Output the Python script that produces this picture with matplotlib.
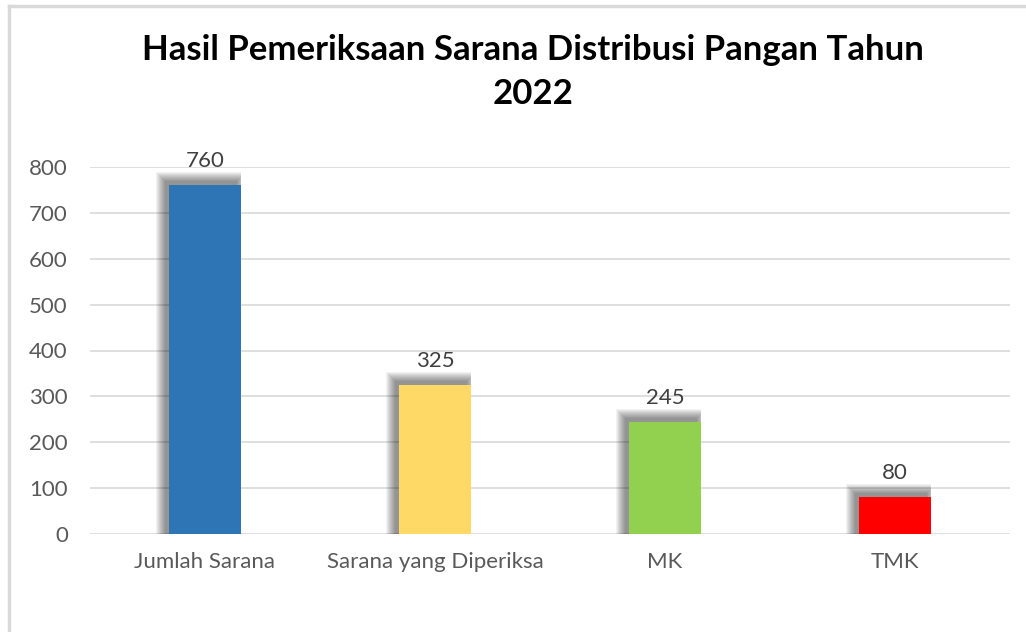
import matplotlib.pyplot as plt
from matplotlib.patches import Rectangle
from matplotlib.lines import Line2D

categories = ["Jumlah Sarana", "Sarana yang Diperiksa", "MK", "TMK"]
values = [760, 325, 245, 80]
colors = ["#2e75b6", "#ffd966", "#92d050", "#ff0000"]
yticks = [0, 100, 200, 300, 400, 500, 600, 700, 800]

plt.rcParams["font.family"] = ["Lato", "DejaVu Sans"]

fig = plt.figure(figsize=(10.26, 6.32), dpi=100)
ax = fig.add_axes([90 / 1026, 1 - 534 / 632, 920 / 1026, 367 / 632])

# light frame around the chart (only top and left show)
fig.add_artist(Line2D([8.5 / 1026, 8.5 / 1026], [0, 1 - 6 / 632], color="#d9d9d9", lw=2.5))
fig.add_artist(Line2D([8.5 / 1026, 1], [1 - 6 / 632, 1 - 6 / 632], color="#d9d9d9", lw=2.5))

x = list(range(len(categories)))
width = 0.313
ax.set_xlim(-0.5, len(categories) - 0.5)
ax.set_ylim(0, 800)

# soft shadow: stacked translucent rectangles, shifted up-left
px = 4 / 920
py = 800 / 367
shift = 4
for xi, v in zip(x, values):
    right = xi + width / 2
    for k in range(9, -1, -1):
        left = xi - width / 2 - (shift + k) * px
        r = min(right - shift * px + k * px, right)
        ax.add_patch(Rectangle((left, 0), r - left, v + (shift + k) * py,
                               facecolor="black", edgecolor="none",
                               alpha=0.05, zorder=2))

ax.bar(x, values, width=width, color=colors, zorder=3)

for xi, v in zip(x, values):
    ax.annotate(str(v), (xi, v), xytext=(0, 10), textcoords="offset points",
                ha="center", va="bottom", fontsize=16, color="#404040")

ax.set_yticks(yticks)
ax.set_xticks(x)
ax.set_xticklabels(categories)
ax.tick_params(axis="both", length=0, labelsize=16, colors="#595959")
ax.tick_params(axis="x", pad=13)
ax.tick_params(axis="y", pad=16)
ax.grid(axis="y", color="#d9d9d9", lw=1.2, zorder=0)
for s in ax.spines.values():
    s.set_visible(False)

fig.text(533 / 1026, 1 - 72 / 632, "Hasil Pemeriksaan Sarana Distribusi Pangan Tahun\n2022",
         ha="center", va="center", fontsize=25, fontweight="bold", color="black",
         linespacing=1.5)

fig.savefig("out.png", dpi=100, facecolor="white")
